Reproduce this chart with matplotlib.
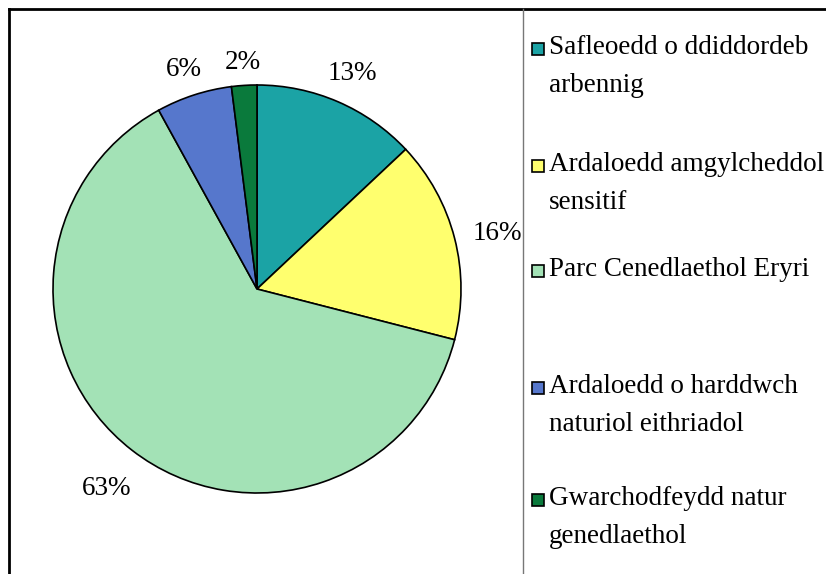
import matplotlib.pyplot as plt
from matplotlib.patches import Rectangle
from matplotlib.lines import Line2D
import numpy as np

# Datos del gráfico
categorias = ["Safleoedd o ddiddordeb\narbennig",
              "Ardaloedd amgylcheddol\nsensitif",
              "Parc Cenedlaethol Eryri",
              "Ardaloedd o harddwch\nnaturiol eithriadol",
              "Gwarchodfeydd natur\ngenedlaethol"]
valores = [13, 16, 63, 6, 2]
etiquetas = ["13%", "16%", "63%", "6%", "2%"]
colores = ["#1ba3a5", "#ffff6e", "#a3e2b6", "#5677cc", "#0a7a3c"]

W, H = 826, 574
fig = plt.figure(figsize=(W / 100, H / 100), dpi=100)
ax = fig.add_axes([0, 0, 1, 1])
ax.set_xlim(0, W)
ax.set_ylim(0, H)
ax.axis("off")

# Tarta en coordenadas de píxel
cx, cy, r = 257, H - 289, 204
wedges, _ = ax.pie(valores, colors=colores, startangle=90, counterclock=False,
                   center=(cx, cy), radius=r,
                   wedgeprops=dict(edgecolor="black", linewidth=1.2))
ax.set_xlim(0, W)
ax.set_ylim(0, H)
ax.set_aspect("auto")

# Etiquetas fuera de la tarta, separadas del borde como en Excel
hueco = 16
for w, txt in zip(wedges, etiquetas):
    ang = np.deg2rad((w.theta1 + w.theta2) / 2)
    dx, dy = np.cos(ang), np.sin(ang)
    semi_w = 8.5 * len(txt)
    semi_h = 12
    d = r + hueco + abs(dx) * semi_w + abs(dy) * semi_h
    ax.text(cx + d * dx, cy + d * dy - 6, txt, fontsize=19.5, family="Liberation Serif",
            ha="center", va="center")

# Marco
ax.add_line(Line2D([9, W], [H - 9, H - 9], color="black", lw=2))
ax.add_line(Line2D([9, 9], [0, H - 9], color="black", lw=2))
ax.add_line(Line2D([523, 523], [0, H - 9], color="#777777", lw=1))

# Leyenda manual
y_leyenda = [49, 166, 271, 388, 500]
for nombre, color, y in zip(categorias, colores, y_leyenda):
    ax.add_patch(Rectangle((532, H - y - 6), 12, 12, facecolor=color,
                           edgecolor="black", lw=1.2))
    ax.text(549, H - y + 14, nombre, fontsize=19.5, family="Liberation Serif",
            va="top", ha="left", linespacing=1.7)

fig.savefig("out.png", dpi=100)
